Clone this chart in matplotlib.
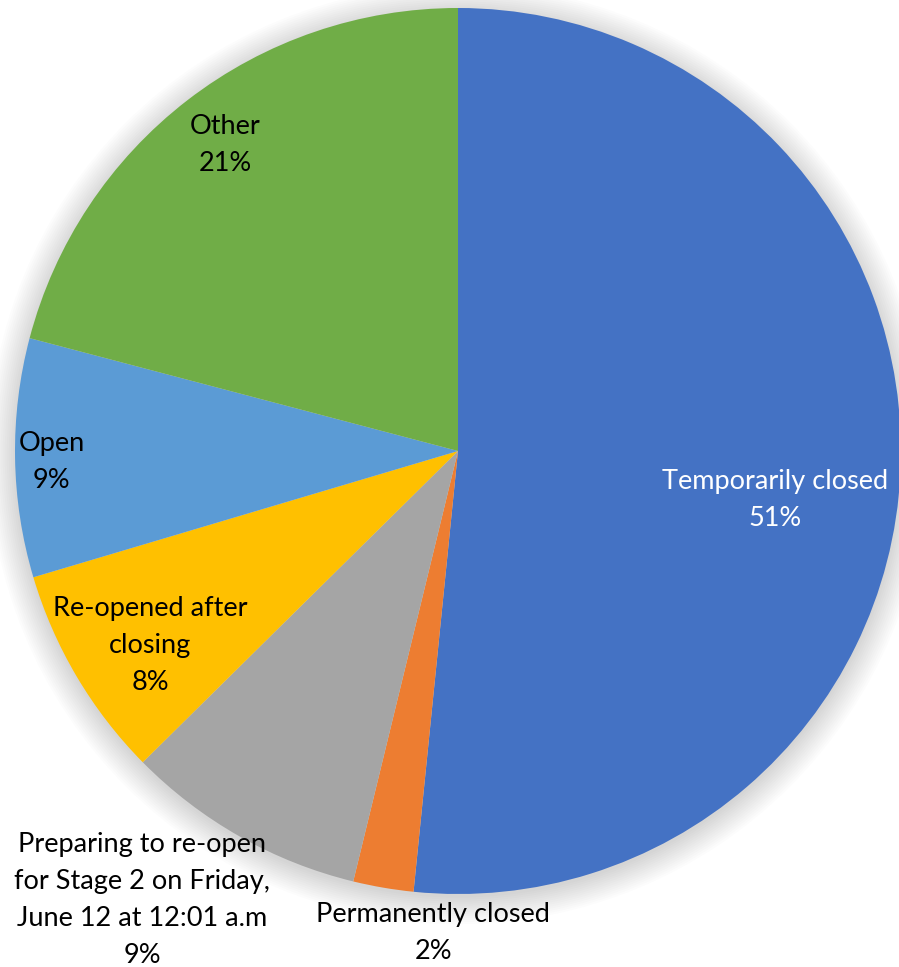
import matplotlib
matplotlib.use("Agg")
import matplotlib.pyplot as plt
from matplotlib.patches import Circle
import numpy as np

labels = ['Temporarily closed', 'Permanently closed',
          'Preparing to re-open\nfor Stage 2 on Friday,\nJune 12 at 12:01 a.m',
          'Re-opened after\nclosing', 'Open', 'Other']
values = [51.6, 2.2, 8.8, 7.8, 8.7, 20.9]
pct_text = ['51%', '2%', '9%', '8%', '9%', '21%']
colors = ['#4472C4', '#ED7D31', '#A5A5A5', '#FFC000', '#5B9BD5', '#70AD47']
text_colors = ['white', 'black', 'black', 'black', 'black', 'black']
# label anchor spots, in pie-radius units from the centre
label_pos = [(0.716, -0.111), (-0.056, -1.088), (-0.713, -1.013),
             (-0.695, -0.438), (-0.917, -0.025), (-0.526, 0.691)]

R = 443
fig = plt.figure(figsize=(8.99, 9.67), dpi=100)
ax = fig.add_axes([0, 0, 1, 1])
cx, cy = 458, 451

# soft glow behind the pie
for r in np.linspace(1.0, 1.06, 14):
    ax.add_patch(Circle((0, -0.008), r, color='#808080', alpha=0.025, lw=0, zorder=0))

ax.pie(values, colors=colors, startangle=90, counterclock=False, radius=1,
       wedgeprops=dict(linewidth=0), center=(0, 0), frame=True)
ax.set_xlim(-cx / R, (899 - cx) / R)
ax.set_ylim(-(967 - cy) / R, cy / R)
ax.set_aspect('equal')
ax.axis('off')

for lab, pct, (x, y), tc in zip(labels, pct_text, label_pos, text_colors):
    ax.text(x, y, lab + '\n' + pct, ha='center', va='center', color=tc,
            fontsize=19.5, family='Lato', linespacing=1.6, zorder=5)

fig.savefig('out.png', dpi=100)
